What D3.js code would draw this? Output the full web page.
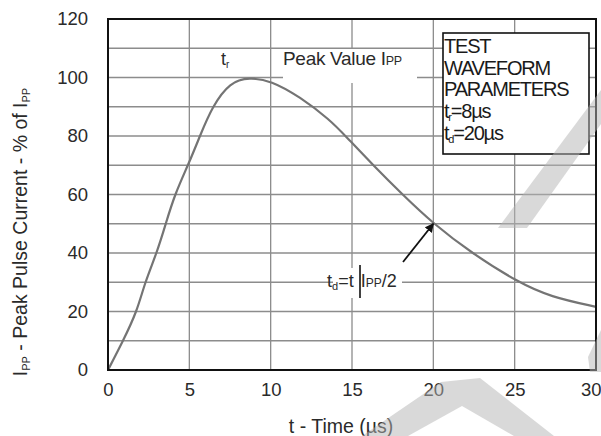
<!DOCTYPE html>
<html lang="en">
<head>
<meta charset="UTF-8">
<title>Test waveform</title>
<script src="https://cdn.jsdelivr.net/npm/d3@7"></script>
<style>
  html, body { margin: 0; padding: 0; background: #fff; }
  svg { display: block; font-family: "Liberation Sans", Arial, sans-serif; }
</style>
</head>
<body>
<svg id="chart" width="601" height="436"></svg>
<script>
// curve: time (us) -> % of Ipp
const timeUs = [0, 0.93, 1.78, 2.27, 3.0, 3.55, 4.1, 5.0, 5.65, 6.4, 7.5, 8.7, 10, 11.8, 13.65, 14.6, 16.3, 18.1, 20, 22.35, 25.2, 27.2, 30];
const pctIpp = [0, 10, 20, 30, 40, 50, 60, 71, 80, 90, 98.5, 100, 99, 93.4, 85.5, 80, 70, 60, 50, 40, 30, 25, 21.6];

const xTicks = [0, 5, 10, 15, 20, 25, 30];
const yTicks = [0, 20, 40, 60, 80, 100, 120];
const yGrid = [10, 20, 30, 40, 50, 60, 70, 80, 90, 100, 110];
const xGrid = [5, 10, 15, 20, 25];

const legendLines = [["TEST"], ["WAVEFORM"], ["PARAMETERS"], ["t", "r", "=8µs"], ["t", "d", "=20µs"]];

const svg = d3.select("#chart");
const x = d3.scaleLinear().domain([0, 30]).range([108, 596]);
const y = d3.scaleLinear().domain([0, 120]).range([370, 19]);
const textCol = "#2a2a2a";

// grid
svg.append("g").selectAll("line").data(yGrid).join("line")
  .attr("x1", x(0)).attr("x2", x(30))
  .attr("y1", d => y(d)).attr("y2", d => y(d))
  .attr("stroke", "#8c8c8c").attr("stroke-width", 1.3);
svg.append("g").selectAll("line").data(xGrid).join("line")
  .attr("x1", d => x(d)).attr("x2", d => x(d))
  .attr("y1", y(0)).attr("y2", y(120))
  .attr("stroke", "#8c8c8c").attr("stroke-width", 1.3);

// white patches behind the annotations
svg.append("rect").attr("x", 283).attr("y", 49).attr("width", 134).attr("height", 34).attr("fill", "#fff");
svg.append("rect").attr("x", 333).attr("y", 268).attr("width", 69).attr("height", 30).attr("fill", "#fff");

// waveform
const line = d3.line()
  .x((d, i) => x(timeUs[i]))
  .y(d => y(d))
  .curve(d3.curveBasis);
svg.append("path").datum(pctIpp)
  .attr("d", line)
  .attr("fill", "none")
  .attr("stroke", "#747474")
  .attr("stroke-width", 2.2);

// frame
svg.append("rect")
  .attr("x", x(0)).attr("y", y(120))
  .attr("width", x(30) - x(0)).attr("height", y(0) - y(120))
  .attr("fill", "none").attr("stroke", "#111").attr("stroke-width", 2);

// axes (ticks as labels only)
const xAxis = svg.append("g").attr("transform", `translate(0,${y(0)})`)
  .call(d3.axisBottom(x).tickValues(xTicks).tickSize(0).tickPadding(13));
xAxis.select(".domain").remove();
xAxis.selectAll("text").attr("font-size", 18.5).attr("fill", textCol)
  .attr("font-family", "Liberation Sans, Arial, sans-serif");
xAxis.selectAll(".tick").filter(d => d === 30).select("text")
  .attr("text-anchor", "end").attr("dx", 5);

const yAxis = svg.append("g").attr("transform", `translate(${x(0)},0)`)
  .call(d3.axisLeft(y).tickValues(yTicks).tickSize(0).tickPadding(20));
yAxis.select(".domain").remove();
yAxis.selectAll("text").attr("font-size", 18.5).attr("fill", textCol)
  .attr("font-family", "Liberation Sans, Arial, sans-serif");

// axis titles
svg.append("text")
  .attr("x", 341).attr("y", 433)
  .attr("text-anchor", "middle")
  .attr("font-size", 19.5).attr("fill", textCol)
  .text("t - Time (µs)");

const yt = svg.append("text")
  .attr("transform", "translate(27,232) rotate(-90)")
  .attr("text-anchor", "middle")
  .attr("font-size", 19.5).attr("fill", textCol);
yt.append("tspan").text("I");
yt.append("tspan").attr("font-size", 11).attr("dy", 3).text("PP");
yt.append("tspan").attr("dy", -3).text(" - Peak Pulse Current - % of I");
yt.append("tspan").attr("font-size", 11).attr("dy", 3).text("PP");

// tr label and peak value
const tr = svg.append("text").attr("x", 221).attr("y", 65).attr("font-size", 18).attr("fill", textCol);
tr.append("tspan").text("t");
tr.append("tspan").attr("font-size", 10).attr("dy", 3).text("r");

const pk = svg.append("text").attr("x", 283).attr("y", 65).attr("font-size", 19).attr("fill", textCol)
  .attr("letter-spacing", -0.3);
pk.append("tspan").text("Peak Value I");
pk.append("tspan").attr("font-size", 12.5).text("PP");

// td annotation
const td = svg.append("text").attr("x", 327).attr("y", 287).attr("font-size", 18).attr("fill", textCol);
td.append("tspan").text("t");
td.append("tspan").attr("font-size", 11).attr("dy", 3).text("d");
td.append("tspan").attr("dy", -3).text("=t");
td.append("tspan").attr("dx", 7).text("I");
td.append("tspan").attr("font-size", 12).text("PP");
td.append("tspan").text("/2");
svg.append("line").attr("x1", 360).attr("x2", 360).attr("y1", 265).attr("y2", 298)
  .attr("stroke", "#111").attr("stroke-width", 1.6);

svg.append("defs").append("marker")
  .attr("id", "head").attr("viewBox", "0 0 10 10")
  .attr("refX", 9).attr("refY", 5)
  .attr("markerWidth", 5).attr("markerHeight", 5)
  .attr("orient", "auto")
  .append("path").attr("d", "M0,0L10,5L0,10z").attr("fill", "#111");
svg.append("line")
  .attr("x1", 403).attr("y1", 262).attr("x2", x(20)).attr("y2", y(50))
  .attr("stroke", "#111").attr("stroke-width", 1.8)
  .attr("marker-end", "url(#head)");

// legend box
svg.append("rect").attr("x", 443).attr("y", 33).attr("width", 146).attr("height", 121)
  .attr("fill", "#fff").attr("stroke", "#111").attr("stroke-width", 1.6);
legendLines.forEach((parts, i) => {
  const t = svg.append("text")
    .attr("x", 444).attr("y", 53 + i * 21.7)
    .attr("font-size", 20).attr("letter-spacing", -1.2).attr("fill", "#1a1a1a");
  if (parts.length === 1) {
    t.text(parts[0]);
  } else {
    t.append("tspan").text(parts[0]);
    t.append("tspan").attr("font-size", 11).attr("dy", 3).text(parts[1]);
    t.append("tspan").attr("dy", -3).text(parts[2]);
  }
});

// light grey watermark strokes
const wm = svg.append("g").attr("fill", "#b4b4b4").attr("opacity", 0.5);
wm.append("polygon").attr("points", "498,228 527,228 601,124 601,90");
wm.append("polygon").attr("points", "588,357 601,330 601,372 590,372");
wm.append("polygon").attr("points", "362,436 441,382 480,378 554,436 514,436 462,406 408,436");
</script>
</body>
</html>
